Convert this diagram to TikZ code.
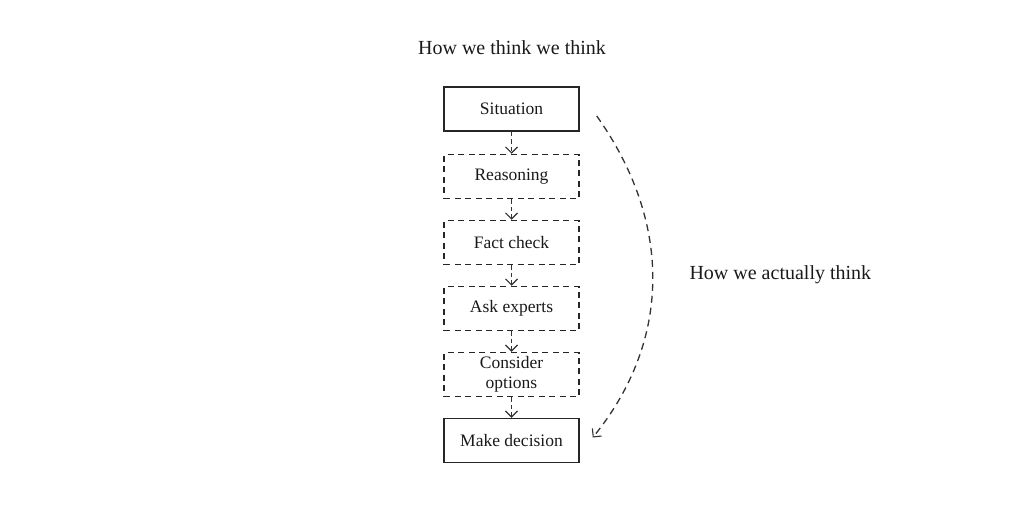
\documentclass[tikz,border=0pt]{standalone}
\usepackage{fontspec}
\setmainfont{Liberation Serif}
\usetikzlibrary{arrows.meta}
\begin{document}
\begin{tikzpicture}[x=1pt,y=-1pt,
  stepbox/.style={draw=black!85, line width=1.5pt, minimum width=135pt, minimum height=44pt,
    inner sep=0pt, align=center, font=\fontsize{17.5}{20.5}\selectfont, text=black!90},
  dashbox/.style={stepbox, dash pattern=on 6pt off 4.5pt},
  flow/.style={draw=black!80, line width=1.1pt, dash pattern=on 4.5pt off 3pt,
    -{Straight Barb[length=6pt,width=12pt,line width=1.1pt]}},
  label/.style={font=\fontsize{20}{23}\selectfont, text=black!90}]
\useasboundingbox (0,0) rectangle (1024,512);
\node[label] (t1) at (512,48) {How we think we think};
\node[label, anchor=west] (t2) at (686,275) {How we actually think};
\node[stepbox] (sit) at (511.5,109) {Situation};
\node[dashbox] (rea) at (511.5,176.5) {Reasoning};
\node[dashbox] (fac) at (511.5,242.5) {Fact check};
\node[dashbox] (ask) at (511.5,308.5) {Ask experts};
\node[dashbox] (con) at (511.5,374.5) {Consider\\options};
\node[stepbox] (dec) at (511.5,440.5) {Make decision};
\draw[flow] (sit) -- (rea);
\draw[flow] (rea) -- (fac);
\draw[flow] (fac) -- (ask);
\draw[flow] (ask) -- (con);
\draw[flow] (con) -- (dec);
\coordinate (cs) at ([xshift=17pt,yshift=-7pt]sit.east);
\coordinate (ce) at ([xshift=13pt,yshift=3pt]dec.east);
\draw[flow, line width=1.3pt, dash pattern=on 7pt off 5pt] (cs) .. controls (672,222) and (672,340) .. (ce);
\end{tikzpicture}
\end{document}
